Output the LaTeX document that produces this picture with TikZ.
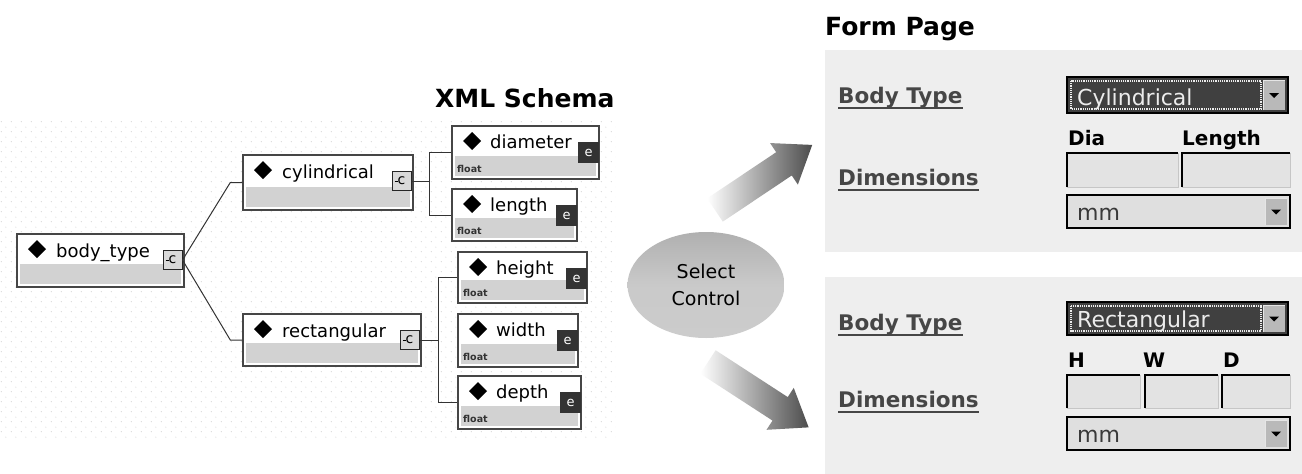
\documentclass[tikz,border=0pt]{standalone}
\usepackage{fontspec}
\setmainfont{DejaVu Sans}
\setsansfont{DejaVu Sans}
\usetikzlibrary{shapes.geometric,patterns.meta}
\tikzdeclarepattern{
  name=sparsedots, type=uncolored,
  bottom left={(0pt,0pt)}, top right={(10pt,10pt)}, tile size={(10pt,10pt)},
  code={\fill (2.5pt,2.5pt) circle (0.6pt); \fill (7.5pt,7.5pt) circle (0.6pt);}
}
\tikzset{
  elembox/.style={draw=gray!55!black, line width=1.4pt, fill=white, inner sep=0pt, shape=rectangle},
  bandfill/.style={fill=gray!35},
  ename/.style={font=\fontsize{18}{20}\selectfont, anchor=base west, inner sep=0pt},
  tname/.style={font=\fontsize{9.5}{10}\selectfont\bfseries, anchor=base west, inner sep=0pt, text=black!80},
  iconc/.style={draw=black!85, line width=1pt, fill=gray!30, minimum size=19pt, inner sep=0pt, font=\fontsize{14}{14}\selectfont},
  icone/.style={fill=black!80, text=white, minimum size=21pt, inner sep=0pt, font=\fontsize{13}{13}\selectfont},
  conn/.style={draw=black!80, line width=1pt},
  flabel/.style={font=\fontsize{21.5}{24}\selectfont\bfseries, text=gray!55!black, anchor=base west, inner sep=0pt},
  fhead/.style={font=\fontsize{20}{22}\selectfont\bfseries, anchor=base west, inner sep=0pt},
  ddtext/.style={font=\fontsize{22}{24}\selectfont, anchor=base west, inner sep=0pt},
  title/.style={font=\fontsize{25}{28}\selectfont\bfseries, anchor=base west, inner sep=0pt},
  panel/.style={fill=gray!13},
  fieldfill/.style={fill=gray!22},
}
\newcommand\celem[6]{%
  \node[elembox, minimum width={#4-#2}, minimum height={#5-#3}] (#1) at ({(#2+#4)/2},{(#3+#5)/2}) {};
  \fill[bandfill] ({#2+3},{#5-23}) rectangle ({#4-3},{#5-3});
  \fill ({#2+20},{#3+6}) -- ({#2+29},{#3+15}) -- ({#2+20},{#3+24}) -- ({#2+11},{#3+15}) -- cycle;
  \node[ename] (#1t) at ({#2+39},{#3+23}) {#6};
  \node[iconc] (#1i) at ({#4-11.5},{#3+26}) {c};
  \draw[line width=1pt] ([xshift=-7pt]#1i.center) -- ([xshift=-4pt]#1i.center);
}
\newcommand\eelem[6]{%
  \node[elembox, minimum width={#4-#2}, minimum height={#5-#3}] (#1) at ({(#2+#4)/2},{(#3+#5)/2}) {};
  \fill[bandfill] ({#2+3},{#5-23}) rectangle ({#4-3},{#5-3});
  \fill ({#2+20},{#3+6}) -- ({#2+29},{#3+15}) -- ({#2+20},{#3+24}) -- ({#2+11},{#3+15}) -- cycle;
  \node[ename] (#1t) at ({#2+38},{#3+22}) {#6};
  \node[tname] (#1y) at ({#2+5},{#5-7}) {float};
  \node[icone] (#1i) at ({#4-10.5},{#3+26.5}) {e};
}
\newcommand\ddbox[8]{% name x1 y1 x2 y2 fill text textcolor
  \filldraw[fill=#6, draw=black, line width=2pt] (#2,#3) rectangle (#4,#5);
  \fill[gray!55] ({#4-25},{#3+3}) rectangle ({#4-3},{#5-3});
  \draw[gray!20, line width=1pt] ({#4-25},{#5-3}) -- ({#4-25},{#3+3}) -- ({#4-3},{#3+3});
  \fill ({#4-19},{(#3+#5)/2-2}) -- ({#4-9},{(#3+#5)/2-2}) -- ({#4-14},{(#3+#5)/2+3}) -- cycle;
  \node[ddtext, text=#8] (#1) at ({#2+10},{#5-8}) {#7};
}
\newcommand\tfield[4]{% x1 y1 x2 y2
  \fill[fieldfill] (#1,#2) rectangle (#3,#4);
  \draw[gray!45, line width=1pt] (#1,#4) -- (#3,#4) -- (#3,#2);
  \draw[black, line width=2pt] (#1,#4) -- (#1,#2) -- (#3,#2);
}
\begin{document}
\begin{tikzpicture}[x=1pt,y=-1pt]
\useasboundingbox (0,0) rectangle (1302,474);
\fill[white] (0,0) rectangle (1302,474);
\fill[pattern=sparsedots, pattern color=gray!35] (0,120) rectangle (615,440);

% schema tree
\node[title] (xs) at (435,107) {XML Schema};
\celem{bt}{17}{234}{184}{287}{body\_type}
\celem{cyl}{243}{155}{413}{210}{cylindrical}
\celem{rect}{243}{314}{421}{366}{rectangular}
\eelem{diam}{452}{126}{599}{179}{diameter}
\eelem{len}{452}{189}{577}{241}{length}
\eelem{hei}{458}{252}{587}{303}{height}
\eelem{wid}{458}{314}{578}{367}{width}
\eelem{dep}{458}{376}{581}{429}{depth}

\draw[conn] (bti.east) -- ([xshift=-12pt]cyl.west) -- (cyl.west);
\draw[conn] (bti.east) -- ([xshift=-12pt]rect.west) -- (rect.west);
\draw[conn] (cyli.east) -- ++(18,0) coordinate (cj);
\draw[conn] (diam.west) -| (cj) |- (len.west);
\draw[conn] (recti.east) -- ++(19,0) coordinate (rj);
\draw[conn] (hei.west) -| (rj) |- (dep.west);

% select control
\node[ellipse, minimum width=157pt, minimum height=106pt, top color=gray!62, bottom color=gray!40, middle color=gray!42, inner sep=0pt,
      align=center, font=\fontsize{19}{27}\selectfont] (sel) at (706,285) {Select\\Control};

\begin{scope}[shift={(715,210)}, rotate=33.8]
\shade[left color=white, middle color=gray!35, right color=gray!60!black]
  (0,-14) -- (83,-14) -- (83,-25) -- (117,0) -- (83,25) -- (83,14) -- (0,14) -- cycle;
\end{scope}
\begin{scope}[shift={(708,362)}, rotate=-33]
\shade[left color=white, middle color=gray!35, right color=gray!60!black]
  (0,-14) -- (86,-14) -- (86,-25) -- (120,0) -- (86,25) -- (86,14) -- (0,14) -- cycle;
\end{scope}

% form page
\node[title] (fp) at (825,35) {Form Page};
\fill[panel] (825,50) rectangle (1302,252);
\node[flabel] (bt1) at (838,103) {Body Type};
\draw[gray!55!black, line width=1.5pt] ([yshift=-5pt]bt1.base west) -- ([yshift=-5pt]bt1.base east);
\node[flabel] (dm1) at (838,185) {Dimensions};
\draw[gray!55!black, line width=1.5pt] ([yshift=-5pt]dm1.base west) -- ([yshift=-5pt]dm1.base east);
\ddbox{dd1}{1067}{77}{1288}{113}{black!75}{Cylindrical}{gray!15}
\draw[gray!15, densely dotted, line width=1.2pt] (1071,81) rectangle (1261,109);
\node[fhead] (dia) at (1068,145) {Dia};
\node[fhead] (lng) at (1182,145) {Length};
\tfield{1067}{153}{1178}{187}
\tfield{1182}{153}{1290}{187}
\ddbox{mm1}{1067}{195}{1290}{228}{gray!25}{mm}{gray!45!black}

\fill[panel] (825,277) rectangle (1302,474);
\node[flabel] (bt2) at (838,330) {Body Type};
\draw[gray!55!black, line width=1.5pt] ([yshift=-5pt]bt2.base west) -- ([yshift=-5pt]bt2.base east);
\node[flabel] (dm2) at (838,407) {Dimensions};
\draw[gray!55!black, line width=1.5pt] ([yshift=-5pt]dm2.base west) -- ([yshift=-5pt]dm2.base east);
\ddbox{dd2}{1067}{302}{1288}{335}{black!75}{Rectangular}{gray!15}
\draw[gray!15, densely dotted, line width=1.2pt] (1071,306) rectangle (1261,331);
\node[fhead] (hh) at (1068,367) {H};
\node[fhead] (ww) at (1143,367) {W};
\node[fhead] (dd) at (1223,367) {D};
\tfield{1067}{375}{1140}{408}
\tfield{1145}{375}{1218}{408}
\tfield{1222}{375}{1290}{408}
\ddbox{mm2}{1067}{417}{1290}{450}{gray!25}{mm}{gray!45!black}
\end{tikzpicture}
\end{document}
